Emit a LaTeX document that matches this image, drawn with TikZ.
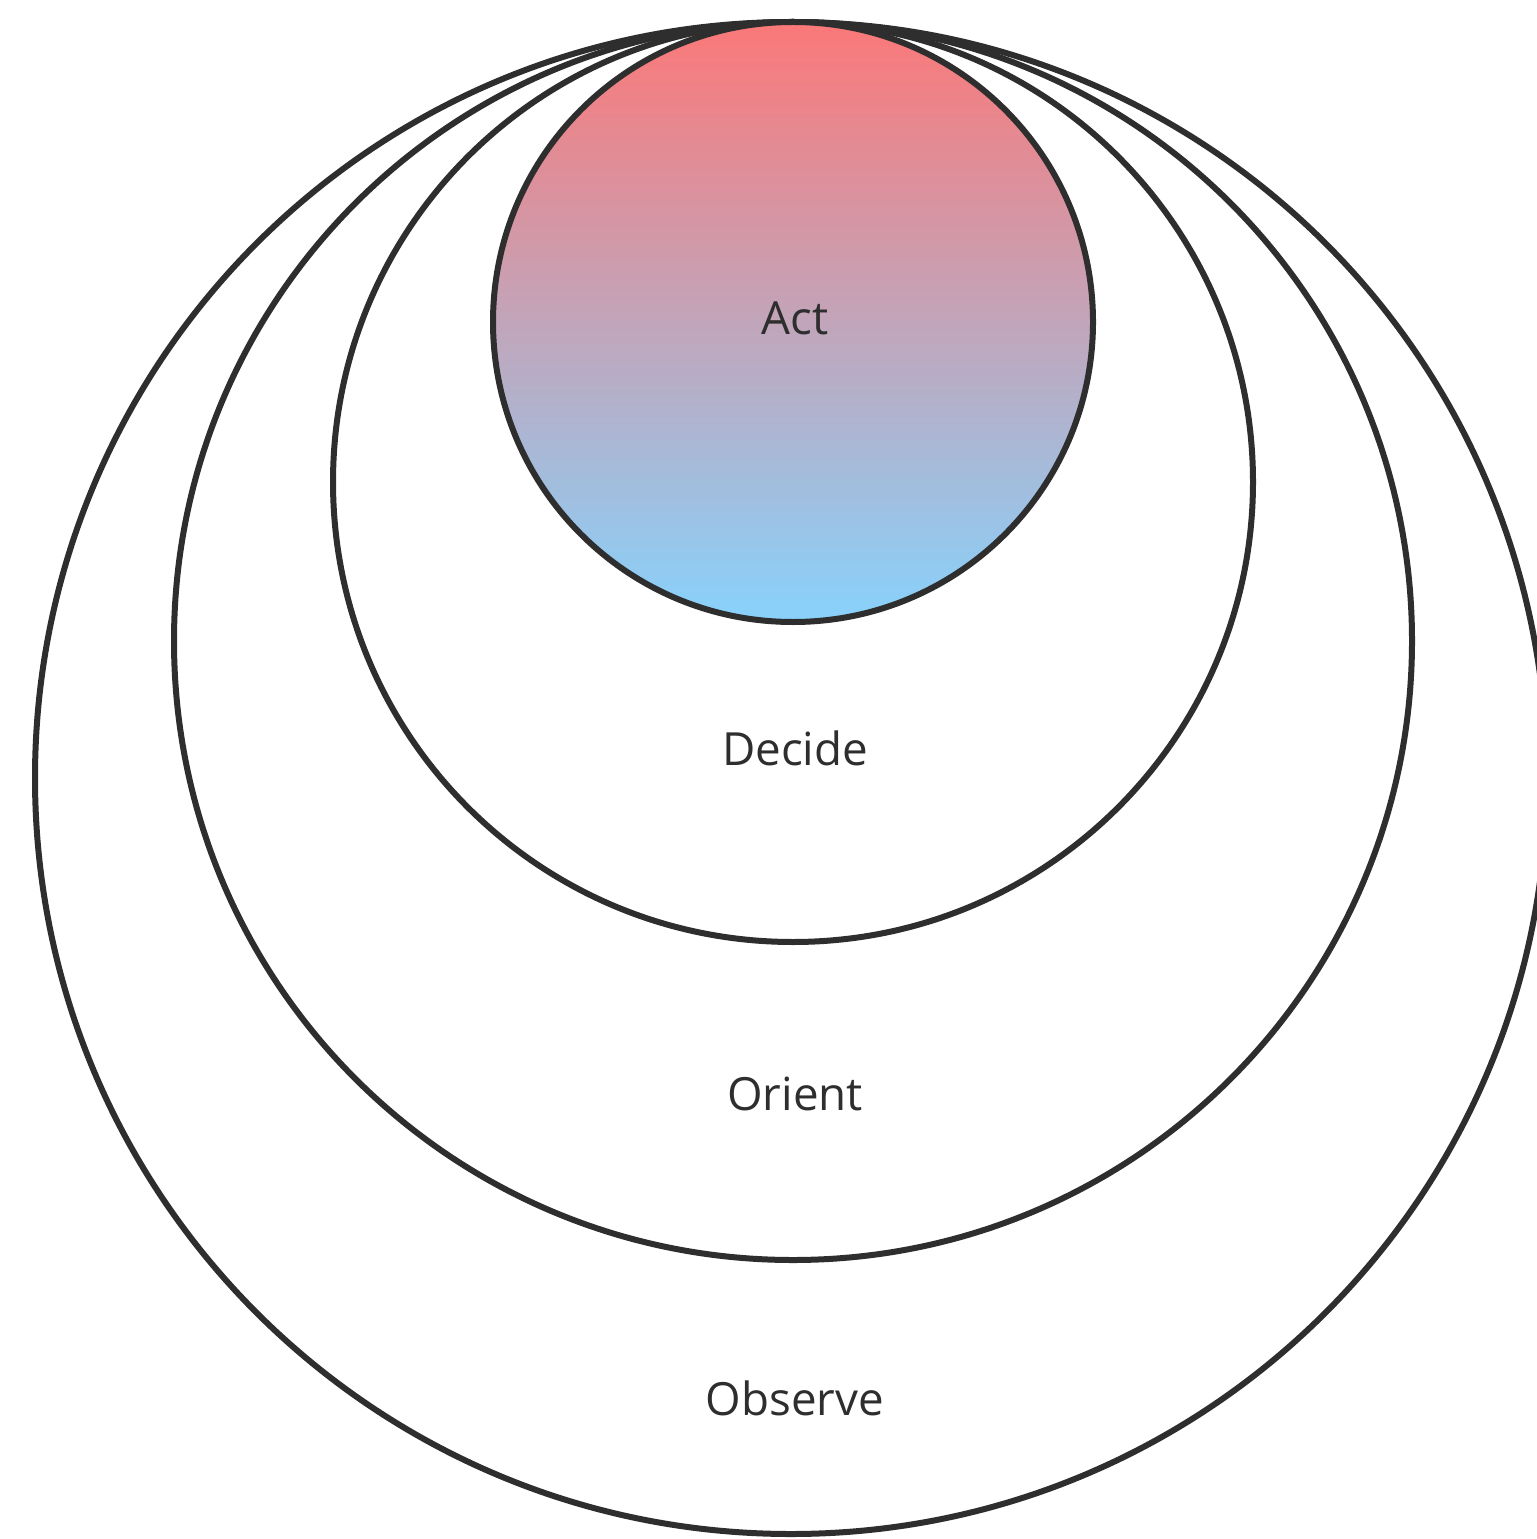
\documentclass[tikz,border=0pt]{standalone}
\usepackage{fontspec}
\setmainfont{Open Sans}

\definecolor{ink}{HTML}{2E2E2E}
\definecolor{actred}{HTML}{FB7878}
\definecolor{actblue}{HTML}{88D2FC}

\begin{document}
\begin{tikzpicture}[
  ring/.style={draw=ink, circle, line width=0.6mm, inner sep=0pt, fill=white},
  actring/.style={ring, top color=actred, bottom color=actblue},
  lbl/.style={anchor=base, text=ink, inner sep=0pt,
              font=\fontsize{13}{15}\selectfont}
]
  \useasboundingbox (0,0) rectangle (15.37,-15.39);
  \clip (0,0) rectangle (15.37,-15.39);

  % Nested loops, all touching at the top
  \node[ring, minimum size=151.2mm] at (7.91,-7.78) (observe) {};
  \node[ring, minimum size=123.8mm] at (7.93,-6.41) (orient)  {};
  \node[ring, minimum size=92.0mm]  at (7.93,-4.82) (decide)  {};
  \node[actring, minimum size=60.0mm] at (7.93,-3.22) (act)   {};

  % Labels
  \node[lbl] at (7.95,-3.35)  (actlbl)     {Act};
  \node[lbl] at (7.95,-7.65)  (decidelbl)  {Decide};
  \node[lbl] at (7.95,-11.10) (orientlbl)  {Orient};
  \node[lbl] at (7.95,-14.15) (observelbl) {Observe};

\end{tikzpicture}
\end{document}
